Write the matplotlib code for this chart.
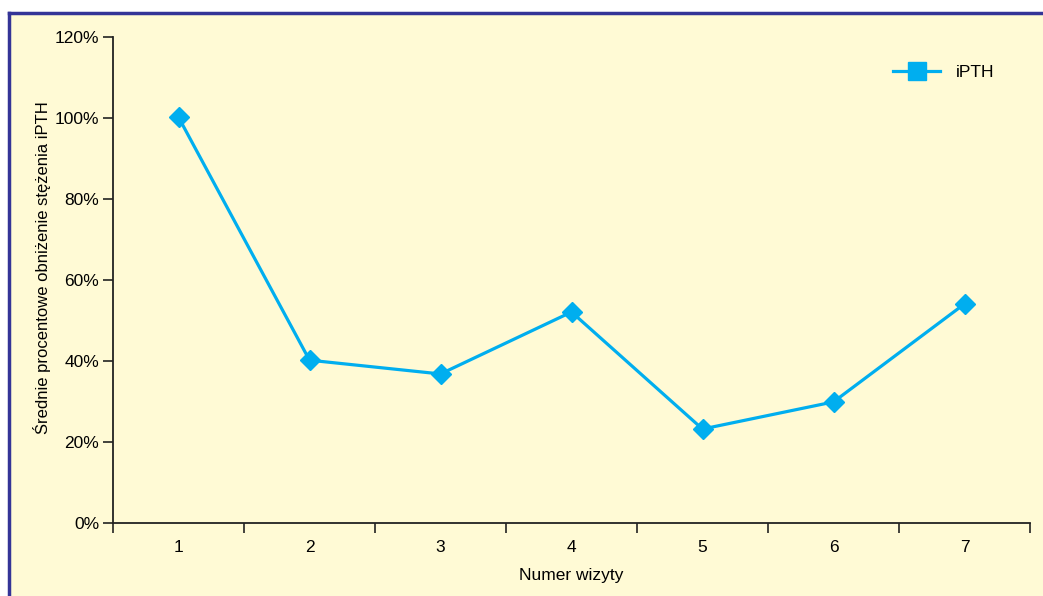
import matplotlib
matplotlib.use('Agg')
import matplotlib.pyplot as plt
from matplotlib.lines import Line2D
from matplotlib.ticker import FuncFormatter, FixedLocator, NullFormatter

plt.rcParams['font.family'] = ['Liberation Sans', 'DejaVu Sans']

# Data
visits = ['1', '2', '3', '4', '5', '6', '7']
ipth = [100.2, 40.2, 36.8, 52.1, 23.2, 29.9, 54.1]

bg = '#FFFAD5'
blue = '#00AEEF'
frame = '#343497'
fs = 12

fig = plt.figure(figsize=(10.43, 5.96), dpi=100, facecolor='white')

# yellow panel with blue frame on top and left
panel = fig.add_axes([9 / 1043, 0, 1 - 9 / 1043, 1 - 13 / 596])
panel.set_facecolor(bg)
panel.set_xticks([])
panel.set_yticks([])
for side in ['right', 'bottom']:
    panel.spines[side].set_visible(False)
for side in ['top', 'left']:
    panel.spines[side].set_color(frame)
    panel.spines[side].set_linewidth(2.5)
panel.set_zorder(0)

ax = fig.add_axes([113 / 1043, 1 - 523 / 596, (1030 - 113) / 1043, (523 - 37) / 596])
ax.patch.set_alpha(0)
ax.set_zorder(1)

x = range(len(visits))
ax.plot(x, ipth, color=blue, lw=2.3, marker='D', markersize=10.5, zorder=3, clip_on=False)

ax.set_xlim(-0.5, len(visits) - 0.5)
ax.set_ylim(0, 120)
ax.set_yticks(range(0, 121, 20))
ax.yaxis.set_major_formatter(FuncFormatter(lambda v, p: f'{int(v)}%'))

ax.set_xticks(list(x))
ax.set_xticklabels(visits)
ax.xaxis.set_minor_locator(FixedLocator([i - 0.5 for i in range(len(visits) + 1)]))
ax.xaxis.set_minor_formatter(NullFormatter())
ax.tick_params(axis='x', which='major', length=0, pad=12, labelsize=12.5)
ax.tick_params(axis='x', which='minor', length=7, width=1.2, color='#222222')
ax.tick_params(axis='y', length=7, width=1.2, color='#222222', labelsize=12.5, pad=3)

for side in ['top', 'right']:
    ax.spines[side].set_visible(False)
for side in ['left', 'bottom']:
    ax.spines[side].set_color('#222222')
    ax.spines[side].set_linewidth(1.3)

ax.set_xlabel('Numer wizyty', fontsize=12.5)
ax.xaxis.set_label_coords(0.5, -0.092)
ax.set_ylabel('Średnie procentowe obniżenie stężenia iPTH', fontsize=fs, va='center')
ax.yaxis.set_label_coords(-0.077, 0.525)

handle = Line2D([], [], color=blue, lw=2.3, marker='s', markersize=13.5)
leg = ax.legend([handle], ['iPTH'], loc='upper right', bbox_to_anchor=(0.978, 0.975),
                frameon=False, fontsize=12.5, handlelength=2.7, handletextpad=0.9)

fig.savefig('out.png', dpi=100, facecolor='white')
